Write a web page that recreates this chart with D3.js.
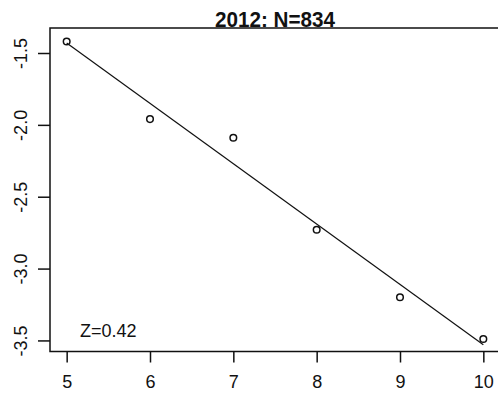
<!DOCTYPE html>
<html>
<head>
<meta charset="utf-8">
<script src="https://cdn.jsdelivr.net/npm/d3@7"></script>
<style>
  html, body { margin: 0; padding: 0; background: #fff; }
  svg { display: block; }
  text { font-family: "Liberation Sans", Arial, sans-serif; fill: #111; }
</style>
</head>
<body>
<script>
// ---- data ----
const xValues = [5, 6, 7, 8, 9, 10];
const yValues = [-1.42, -1.96, -2.09, -2.73, -3.20, -3.49];
const fitX = [5, 10];
const fitY = [-1.43, -3.53];
const xTicks = [5, 6, 7, 8, 9, 10];
const yTicks = [-1.5, -2.0, -2.5, -3.0, -3.5];
const title = "2012: N=834";
const note = "Z=0.42";

const W = 498, H = 397;
const mLeft = 50, mRight = 500, mTop = 28, mBottom = 351.5;

const svg = d3.select("body").append("svg").attr("width", W).attr("height", H);

const x = d3.scaleLinear().domain([4.8, 10.2]).range([mLeft, mRight]);
const y = d3.scaleLinear().domain([-3.577, -1.326]).range([mBottom, mTop]);

// box
svg.append("rect")
  .attr("x", mLeft).attr("y", mTop)
  .attr("width", mRight - mLeft).attr("height", mBottom - mTop)
  .attr("fill", "none").attr("stroke", "#111").attr("stroke-width", 1.5);

// x axis
const xAxis = svg.append("g")
  .attr("transform", `translate(0,${mBottom})`)
  .call(d3.axisBottom(x).tickValues(xTicks).tickSize(11).tickPadding(13).tickFormat(d3.format("d")));
xAxis.select(".domain").remove();
xAxis.selectAll("line").attr("stroke", "#111").attr("stroke-width", 1.5);
xAxis.selectAll("text").attr("font-size", 18).attr("fill", "#111")
  .attr("font-family", '"Liberation Sans", Arial, sans-serif');

// y axis (ASCII hyphen as minus, like the reference)
const yFmt = (d) => d.toFixed(1);
const yAxis = svg.append("g")
  .attr("transform", `translate(${mLeft},0)`)
  .call(d3.axisLeft(y).tickValues(yTicks).tickSize(12).tickFormat(yFmt));
yAxis.select(".domain").remove();
yAxis.selectAll("line").attr("stroke", "#111").attr("stroke-width", 1.5);
yAxis.selectAll("text")
  .attr("font-size", 18).attr("fill", "#111")
  .attr("font-family", '"Liberation Sans", Arial, sans-serif')
  .attr("text-anchor", "middle")
  .attr("x", 0).attr("dy", 0)
  .attr("transform", "translate(-23,0) rotate(-90)");

// fitted line
svg.append("line")
  .attr("x1", x(fitX[0])).attr("y1", y(fitY[0]))
  .attr("x2", x(fitX[1])).attr("y2", y(fitY[1]))
  .attr("stroke", "#111").attr("stroke-width", 1.2);

// points
svg.selectAll("circle.pt").data(xValues).enter().append("circle")
  .attr("class", "pt")
  .attr("cx", (d) => x(d))
  .attr("cy", (d, i) => y(yValues[i]))
  .attr("r", 3.3)
  .attr("fill", "none").attr("stroke", "#111").attr("stroke-width", 1.5);

// title
svg.append("text")
  .attr("transform", `translate(${(mLeft + mRight) / 2},27) scale(0.94,1)`)
  .attr("text-anchor", "middle")
  .attr("font-size", 22).attr("font-weight", "bold")
  .text(title);

// note
svg.append("text")
  .attr("x", 80).attr("y", 337)
  .attr("font-size", 18)
  .text(note);
</script>
</body>
</html>
